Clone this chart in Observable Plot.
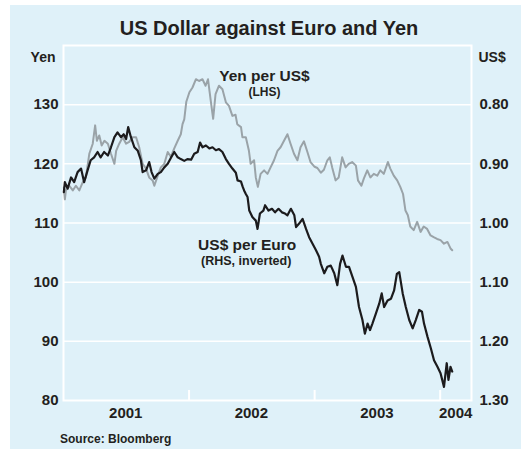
<!DOCTYPE html>
<html><head><meta charset="utf-8">
<script src="https://cdn.jsdelivr.net/npm/d3@7"></script>
<script src="https://cdn.jsdelivr.net/npm/@observablehq/plot@0.6"></script>
<style>
html,body{margin:0;padding:0;background:#fff;}
body{width:521px;height:449px;position:relative;overflow:hidden;font-family:"Liberation Sans",Arial,sans-serif;color:#231f20;}
#bg{position:absolute;left:10px;top:5px;width:511px;height:444px;background:#dff1f9;}
#title{position:absolute;left:0;top:16px;width:538px;text-align:center;font-size:20px;line-height:24px;font-weight:bold;}
#chart{position:absolute;left:0;top:40px;}
#source{position:absolute;left:60px;top:432px;font-size:12px;line-height:14px;font-weight:bold;}
</style></head>
<body>
<div id="bg"></div>
<div id="title">US Dollar against Euro and Yen</div>
<div id="chart"></div>
<div id="source">Source: Bloomberg</div>
<script>
const yenDates = ["2001-01-02","2001-01-05","2001-01-08","2001-01-18","2001-01-28","2001-02-06","2001-02-16","2001-02-26","2001-03-07","2001-03-17","2001-03-27","2001-04-03","2001-04-08","2001-04-15","2001-04-22","2001-04-30","2001-05-10","2001-05-19","2001-05-29","2001-06-03","2001-06-12","2001-06-22","2001-07-02","2001-07-11","2001-07-21","2001-07-31","2001-08-09","2001-08-19","2001-08-29","2001-09-07","2001-09-17","2001-09-22","2001-10-02","2001-10-11","2001-10-21","2001-10-31","2001-11-09","2001-11-19","2001-11-29","2001-12-08","2001-12-13","2001-12-18","2001-12-24","2002-01-02","2002-01-11","2002-01-21","2002-01-30","2002-02-09","2002-02-18","2002-02-25","2002-03-05","2002-03-12","2002-03-19","2002-03-29","2002-04-08","2002-04-18","2002-04-27","2002-05-07","2002-05-16","2002-05-21","2002-06-01","2002-06-05","2002-06-15","2002-06-24","2002-06-29","2002-07-09","2002-07-14","2002-07-20","2002-07-28","2002-08-07","2002-08-17","2002-08-26","2002-09-05","2002-09-15","2002-09-24","2002-10-04","2002-10-14","2002-10-23","2002-11-02","2002-11-12","2002-11-21","2002-12-01","2002-12-11","2002-12-20","2003-01-01","2003-01-09","2003-01-19","2003-01-28","2003-02-07","2003-02-14","2003-02-21","2003-03-03","2003-03-12","2003-03-22","2003-04-01","2003-04-10","2003-04-20","2003-05-01","2003-05-07","2003-05-17","2003-05-24","2003-06-03","2003-06-12","2003-06-22","2003-07-02","2003-07-11","2003-07-21","2003-08-02","2003-08-09","2003-08-19","2003-08-29","2003-09-07","2003-09-15","2003-09-22","2003-09-29","2003-10-06","2003-10-16","2003-10-26","2003-11-05","2003-11-14","2003-11-24","2003-12-04","2003-12-13","2003-12-23","2004-01-02","2004-01-12","2004-01-22","2004-01-31","2004-02-05"];
const yenValues = [116.0,114.0,115.5,116.3,115.5,116.3,115.5,116.9,117.7,121.7,123.4,126.5,123.9,124.8,123.1,123.9,123.4,121.7,120.0,122.2,123.4,124.5,123.4,123.7,124.5,124.5,122.8,120.0,119.2,117.7,117.2,116.3,118.0,119.4,120.0,122.0,121.2,122.6,123.9,125.0,126.7,127.5,130.5,132.1,132.9,134.3,134.0,134.3,133.2,134.3,130.7,127.6,131.8,133.2,132.6,130.4,129.8,128.1,128.3,126.7,126.2,124.5,124.5,122.2,120.0,120.6,117.7,116.1,118.3,118.9,118.3,119.4,120.6,122.2,122.8,123.9,125.0,123.4,121.7,120.6,122.8,123.8,122.0,120.3,119.5,119.3,118.5,119.0,120.6,121.1,119.4,117.2,117.7,121.1,119.4,120.0,120.3,119.7,117.2,116.3,117.5,118.9,117.7,118.3,118.0,118.9,118.3,120.3,119.2,118.0,117.2,116.1,114.9,112.1,111.3,109.4,108.8,110.2,108.5,109.4,109.0,107.9,107.6,107.3,107.1,106.5,106.8,105.7,105.4];

const eurDates = ["2001-01-02","2001-01-05","2001-01-13","2001-01-23","2001-02-01","2001-02-11","2001-02-21","2001-03-02","2001-03-12","2001-03-21","2001-03-31","2001-04-10","2001-04-19","2001-04-29","2001-05-10","2001-05-19","2001-05-29","2001-06-07","2001-06-17","2001-06-25","2001-07-02","2001-07-08","2001-07-16","2001-07-26","2001-08-05","2001-08-14","2001-08-19","2001-08-29","2001-09-07","2001-09-14","2001-09-22","2001-10-02","2001-10-11","2001-10-21","2001-10-31","2001-11-09","2001-11-19","2001-11-29","2001-12-08","2001-12-18","2001-12-27","2002-01-07","2002-01-16","2002-01-26","2002-02-02","2002-02-09","2002-02-19","2002-03-01","2002-03-10","2002-03-20","2002-03-29","2002-04-08","2002-04-18","2002-04-27","2002-05-07","2002-05-17","2002-05-22","2002-06-01","2002-06-06","2002-06-10","2002-06-15","2002-06-20","2002-06-25","2002-07-04","2002-07-14","2002-07-19","2002-07-26","2002-08-05","2002-08-10","2002-08-20","2002-08-30","2002-09-08","2002-09-18","2002-09-28","2002-10-07","2002-10-14","2002-10-24","2002-11-03","2002-11-08","2002-11-17","2002-11-27","2002-12-07","2002-12-16","2002-12-26","2003-01-05","2003-01-14","2003-01-19","2003-01-29","2003-02-07","2003-02-17","2003-02-27","2003-03-08","2003-03-16","2003-03-23","2003-04-02","2003-04-11","2003-04-21","2003-05-01","2003-05-10","2003-05-20","2003-05-27","2003-06-04","2003-06-11","2003-06-18","2003-06-28","2003-07-08","2003-07-15","2003-07-22","2003-08-01","2003-08-11","2003-08-20","2003-08-28","2003-09-04","2003-09-14","2003-09-23","2003-10-03","2003-10-13","2003-10-22","2003-11-01","2003-11-09","2003-11-15","2003-11-25","2003-12-05","2003-12-14","2003-12-24","2004-01-02","2004-01-12","2004-01-20","2004-01-25","2004-01-31","2004-02-05"];
const eurValues = [0.948,0.931,0.942,0.923,0.931,0.914,0.908,0.931,0.911,0.894,0.889,0.880,0.889,0.880,0.886,0.872,0.855,0.847,0.855,0.850,0.858,0.838,0.855,0.872,0.878,0.894,0.914,0.911,0.897,0.914,0.925,0.917,0.914,0.906,0.900,0.890,0.880,0.889,0.892,0.895,0.892,0.893,0.883,0.880,0.864,0.872,0.869,0.874,0.872,0.877,0.875,0.880,0.892,0.900,0.908,0.915,0.928,0.930,0.939,0.945,0.951,0.956,0.979,0.990,0.996,1.010,0.984,0.979,0.970,0.979,0.976,0.982,0.976,0.982,0.984,0.987,0.976,0.987,1.007,1.001,0.993,1.010,1.024,1.035,1.046,1.057,1.069,1.085,1.074,1.072,1.085,1.105,1.069,1.055,1.074,1.074,1.091,1.108,1.142,1.164,1.187,1.170,1.181,1.170,1.153,1.136,1.119,1.142,1.131,1.128,1.114,1.086,1.083,1.119,1.142,1.164,1.178,1.164,1.147,1.150,1.170,1.192,1.212,1.232,1.243,1.254,1.277,1.237,1.265,1.243,1.251];

const leftTicks = [80, 90, 100, 110, 120, 130];
const gridLines = [90, 100, 110, 120, 130];
const yearTicks = ["2002-01-01", "2003-01-01", "2004-01-01"];
const yearLabels = ["2001", "2002", "2003", "2004"];
const yearLabelDates = ["2001-07-01", "2002-07-01", "2003-07-01", "2004-02-15"];

const yenData = yenDates.map((d, i) => ({date: new Date(d), value: yenValues[i]}));
const eurData = eurDates.map((d, i) => ({date: new Date(d), value: eurValues[i]}));
// right axis: US$ per Euro, inverted; 0.80 aligns with 130 yen, 1.30 with 80 yen
const eurToLeft = v => 130 - (v - 0.80) * 100;
const leftToEur = y => (0.80 + (130 - y) / 100).toFixed(2);

const chart = Plot.plot({
  width: 521,
  height: 390,
  marginLeft: 63,
  marginRight: 50,
  marginTop: 5,
  marginBottom: 30,
  style: {background: "transparent", fontFamily: "'Liberation Sans', Arial, sans-serif", fontSize: "15px", fontWeight: "bold", color: "#231f20"},
  x: {type: "utc", domain: [new Date("2001-01-01"), new Date("2004-04-01")], axis: null},
  y: {domain: [80, 140]},
  marks: [
    Plot.ruleY(gridLines, {stroke: "white", strokeWidth: 1.5}),
    Plot.frame({stroke: "white", strokeWidth: 2}),
    Plot.ruleX(yearTicks.map(d => new Date(d)), {y1: 80, y2: 81.7, stroke: "white", strokeWidth: 2}),
    Plot.line(yenData, {x: "date", y: "value", stroke: "#9aa3a8", strokeWidth: 2}),
    Plot.line(eurData, {x: "date", y: d => eurToLeft(d.value), stroke: "#1c1b1d", strokeWidth: 2.2}),
    Plot.axisY({anchor: "left", ticks: leftTicks, tickSize: 0, tickPadding: 5, label: null, fontSize: 15, fontWeight: "bold"}),
    Plot.axisY({anchor: "right", ticks: leftTicks, tickSize: 0, tickPadding: 8, tickFormat: leftToEur, label: null, fontSize: 15, fontWeight: "bold"}),
    Plot.text(yearLabels, {x: (d, i) => new Date(yearLabelDates[i]), text: d => d, frameAnchor: "bottom", dy: 17.5, fontSize: 15, fontWeight: "bold"}),
    Plot.text(["Yen"], {frameAnchor: "top-left", textAnchor: "end", lineAnchor: "middle", dx: -8, dy: 11.7, fontSize: 14, fontWeight: "bold"}),
    Plot.text(["US$"], {frameAnchor: "top-right", textAnchor: "start", lineAnchor: "middle", dx: 7, dy: 11.7, fontSize: 14, fontWeight: "bold"}),
    Plot.text(["Yen per US$"], {x: new Date("2002-08-08"), y: 134.8, fontSize: 15.5, fontWeight: "bold"}),
    Plot.text(["(LHS)"], {x: new Date("2002-08-08"), y: 132.1, fontSize: 12, fontWeight: "bold"}),
    Plot.text(["US$ per Euro"], {x: new Date("2002-06-19"), y: 106.2, fontSize: 15.5, fontWeight: "bold"}),
    Plot.text(["(RHS, inverted)"], {x: new Date("2002-06-16"), y: 103.6, fontSize: 12.5, fontWeight: "bold"})
  ]
});
document.getElementById("chart").appendChild(chart);
</script>
</body></html>
